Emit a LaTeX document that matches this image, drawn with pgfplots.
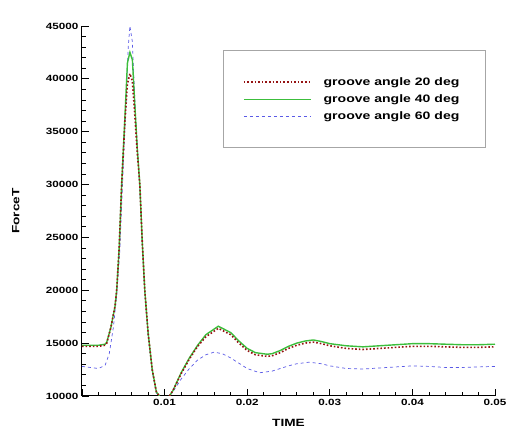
\documentclass[border=0pt]{standalone}
\usepackage{fontspec}
\setmainfont{Liberation Sans}[FakeStretch=1.3]
\usepackage{pgfplots}
\pgfplotsset{compat=1.18}
\definecolor{c20}{RGB}{150,20,20}
\definecolor{c40}{RGB}{60,190,60}
\definecolor{c60}{RGB}{90,90,230}

\begin{document}
\begin{tikzpicture}
\path[use as bounding box] (-82pt,-42pt) rectangle (436pt,396pt);
\begin{axis}[
    at={(0,0)}, anchor=south west,
    scale only axis, width=413pt, height=370pt,
    xmin=0, xmax=0.05, ymin=10000, ymax=45000,
    scaled ticks=false,
    axis lines=left, axis line style={-, line width=1pt},
    tick align=inside, tick style={black, line width=0.8pt},
    major tick length=7pt, minor tick length=4pt,
    xtick={0,0.01,0.02,0.03,0.04,0.05},
    xticklabels={,0.01,0.02,0.03,0.04,0.05},
    ytick={10000,15000,20000,25000,30000,35000,40000,45000},
    yticklabels={10000,15000,20000,25000,30000,35000,40000,45000},
    minor x tick num=4, minor y tick num=4,
    ticklabel style={font=\fontsize{9}{10}\selectfont\bfseries},
    xlabel={TIME}, ylabel={ForceT},
    label style={font=\fontsize{10.5}{12}\selectfont\bfseries},
    xlabel style={at={(axis description cs:0.5,-0.073)}, anchor=center},
    ylabel style={at={(axis description cs:-0.160,0.5)}, anchor=center, rotate=0},
    legend cell align=left,
    legend style={at={(0.341,0.935)}, anchor=north west, draw=none, fill=none,
        inner xsep=20pt, inner ysep=25pt, row sep=4pt,
        font=\fontsize{10.8}{12}\selectfont\bfseries,
        /tikz/column 1/.style={column sep=10pt}},
    legend image code/.code={\draw[#1] plot coordinates {(0pt,0pt) (33pt,0pt) (67pt,0pt)};},
]
% legend entries first, in the reference's order
\addlegendimage{draw=c20, dotted, line width=1.6pt}
\addlegendentry{groove angle 20 deg}
\addlegendimage{draw=c40, solid, line width=1.4pt}
\addlegendentry{groove angle 40 deg}
\addlegendimage{draw=c60, dashed, line width=0.7pt}
\addlegendentry{groove angle 60 deg}

\addplot[color=c60, dashed, line width=0.7pt, forget plot] coordinates {
 (0,12800)(0.001,12700)(0.002,12600)(0.0028,12900)(0.0033,14000)(0.0038,16500)
 (0.0042,19500)(0.0046,24000)(0.0049,30000)(0.0053,37000)(0.0056,43000)(0.0058,45000)
 (0.0061,43500)(0.0064,38000)(0.0067,33500)(0.0070,29500)(0.0073,24300)(0.0076,19800)
 (0.0080,15800)(0.0085,12300)(0.0090,10300)(0.0095,9850)(0.0100,9800)(0.0105,9900)
 (0.0110,10400)(0.012,11600)(0.013,12600)(0.014,13400)(0.015,13900)(0.016,14150)
 (0.017,14000)(0.018,13600)(0.019,13100)(0.020,12600)(0.0215,12200)(0.023,12350)
 (0.024,12600)(0.025,12850)(0.026,13050)(0.0275,13200)(0.029,13050)(0.030,12850)
 (0.032,12600)(0.034,12550)(0.036,12650)(0.038,12750)(0.040,12850)(0.042,12800)
 (0.044,12700)(0.046,12700)(0.048,12750)(0.050,12800)
};
\addplot[color=c40, line width=1.4pt, forget plot] coordinates {
 (0,14800)(0.001,14800)(0.002,14800)(0.0028,14900)(0.003,15100)(0.0035,16500)
 (0.004,18500)(0.0042,20000)(0.0045,24000)(0.0048,30000)(0.0052,36500)(0.0055,41500)
 (0.0058,42500)(0.0061,41800)(0.0064,37500)(0.0067,33300)(0.0070,30000)(0.0073,24500)
 (0.0076,20000)(0.0080,16000)(0.0085,12500)(0.0090,10400)(0.0095,9850)(0.0100,9800)
 (0.0105,9900)(0.0110,10500)(0.012,12200)(0.013,13600)(0.014,14800)(0.015,15800)
 (0.0165,16600)(0.018,16000)(0.019,15200)(0.020,14500)(0.021,14100)(0.0224,13950)
 (0.023,14000)(0.024,14300)(0.025,14700)(0.026,15000)(0.027,15200)(0.028,15300)
 (0.029,15150)(0.030,14950)(0.032,14750)(0.034,14650)(0.036,14750)(0.038,14850)
 (0.040,14950)(0.042,14950)(0.044,14900)(0.046,14850)(0.048,14850)(0.050,14900)
};
\addplot[color=c20, dotted, line width=1.6pt, forget plot] coordinates {
 (0,14700)(0.001,14700)(0.002,14700)(0.0028,14800)(0.003,15000)(0.0035,16500)
 (0.004,18500)(0.0042,20000)(0.0045,24000)(0.0048,30000)(0.0052,36000)(0.0055,39500)
 (0.0058,40500)(0.0061,39800)(0.0064,36500)(0.0067,33000)(0.0070,30000)(0.0073,24500)
 (0.0076,20000)(0.0080,16000)(0.0085,12500)(0.0090,10400)(0.0095,9850)(0.0100,9800)
 (0.0105,9900)(0.0110,10500)(0.012,12100)(0.013,13500)(0.014,14700)(0.015,15600)
 (0.0165,16400)(0.018,15800)(0.019,15000)(0.020,14300)(0.021,13900)(0.0224,13750)
 (0.023,13800)(0.024,14100)(0.025,14500)(0.026,14800)(0.027,15000)(0.028,15100)
 (0.029,14950)(0.030,14750)(0.032,14500)(0.034,14400)(0.036,14500)(0.038,14600)
 (0.040,14700)(0.042,14700)(0.044,14650)(0.046,14600)(0.048,14600)(0.050,14650)
};
% legend frame
\draw[gray!70, line width=0.6pt] (rel axis cs:0.341,0.935) rectangle (rel axis cs:0.976,0.673);
\end{axis}
\end{tikzpicture}
\end{document}
